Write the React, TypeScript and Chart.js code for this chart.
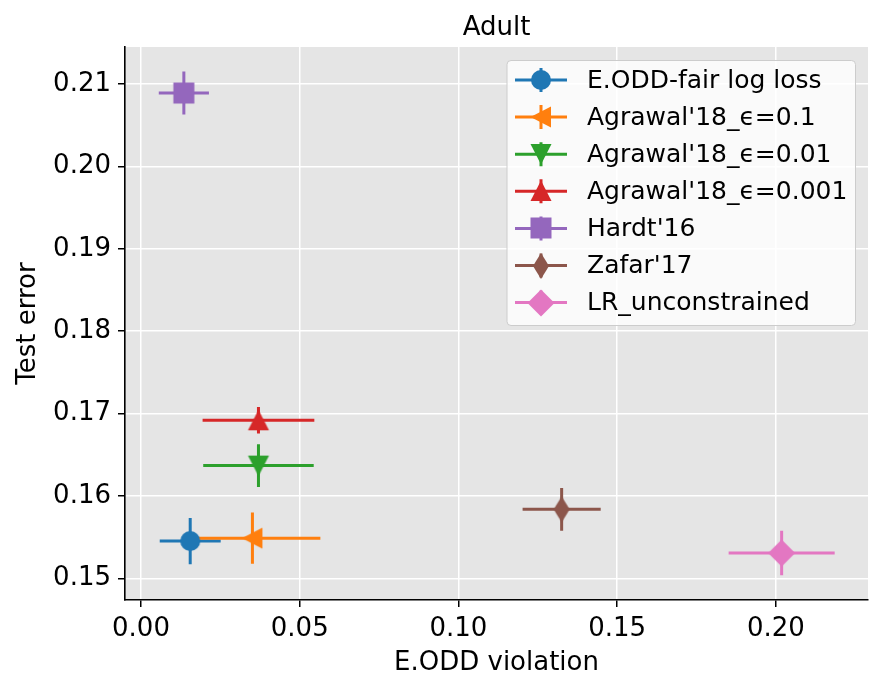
import React, { useEffect, useRef } from "react";
import { Chart, registerables } from "chart.js";

Chart.register(...registerables);

// Methods compared on the Adult dataset
const seriesLabels = [
  "E.ODD-fair log loss",
  "Agrawal'18_\u03f5=0.1",
  "Agrawal'18_\u03f5=0.01",
  "Agrawal'18_\u03f5=0.001",
  "Hardt'16",
  "Zafar'17",
  "LR_unconstrained",
];
const seriesColors = ["#1f77b4", "#ff7f0e", "#2ca02c", "#d62728", "#9467bd", "#8c564b", "#e377c2"];
const markerShapes = ["circle", "triangleLeft", "triangleDown", "triangleUp", "square", "thinDiamond", "diamond"];

// Mean E.ODD violation and test error, with their spreads
const violation = [0.0155, 0.0351, 0.037, 0.037, 0.0135, 0.1325, 0.2018];
const violationErr = [0.0096, 0.0214, 0.0174, 0.0176, 0.0079, 0.0123, 0.0167];
const testError = [0.15455, 0.1549, 0.1637, 0.1692, 0.2089, 0.1584, 0.1531];
const testErrorErr = [0.0028, 0.0031, 0.0026, 0.0016, 0.0026, 0.0026, 0.0027];

const xTicks = [0, 0.05, 0.1, 0.15, 0.2];
const yTicks = [0.15, 0.16, 0.17, 0.18, 0.19, 0.2, 0.21];

const FONT = "'DejaVu Sans', sans-serif";

function makeMarker(shape: string, color: string): HTMLCanvasElement {
  const size = 30;
  const c = document.createElement("canvas");
  c.width = size;
  c.height = size;
  const g = c.getContext("2d")!;
  g.fillStyle = color;
  g.translate(size / 2, size / 2);
  g.beginPath();
  switch (shape) {
    case "circle":
      g.arc(0, 0, 10, 0, Math.PI * 2);
      break;
    case "triangleUp":
      g.moveTo(0, -10.5); g.lineTo(10.5, 10); g.lineTo(-10.5, 10);
      break;
    case "triangleDown":
      g.moveTo(0, 10.5); g.lineTo(10.5, -10); g.lineTo(-10.5, -10);
      break;
    case "triangleLeft":
      g.moveTo(-10.5, 0); g.lineTo(10, -10.5); g.lineTo(10, 10.5);
      break;
    case "square":
      g.rect(-10.5, -10.5, 21, 21);
      break;
    case "thinDiamond":
      g.moveTo(0, -13); g.lineTo(8, 0); g.lineTo(0, 13); g.lineTo(-8, 0);
      break;
    case "diamond":
      g.moveTo(0, -13.5); g.lineTo(13.5, 0); g.lineTo(0, 13.5); g.lineTo(-13.5, 0);
      break;
  }
  g.closePath();
  g.fill();
  return c;
}

// Gray panel behind the grid
const panelBackground = {
  id: "panelBackground",
  beforeDraw(chart: any) {
    const { ctx, chartArea: a } = chart;
    ctx.save();
    ctx.fillStyle = "#e5e5e5";
    ctx.fillRect(a.left, a.top, a.right - a.left, a.bottom - a.top);
    ctx.restore();
  },
};

// Horizontal and vertical error bars under the markers
const errorBars = {
  id: "errorBars",
  beforeDatasetsDraw(chart: any) {
    const { ctx, scales } = chart;
    const xs = scales.x;
    const ys = scales.y;
    ctx.save();
    ctx.lineWidth = 3;
    ctx.lineCap = "butt";
    chart.data.datasets.forEach((ds: any, i: number) => {
      const x = violation[i];
      const y = testError[i];
      const px = xs.getPixelForValue(x);
      const py = ys.getPixelForValue(y);
      ctx.strokeStyle = ds.borderColor;
      ctx.beginPath();
      ctx.moveTo(xs.getPixelForValue(x - violationErr[i]), py);
      ctx.lineTo(xs.getPixelForValue(x + violationErr[i]), py);
      ctx.moveTo(px, ys.getPixelForValue(y - testErrorErr[i]));
      ctx.lineTo(px, ys.getPixelForValue(y + testErrorErr[i]));
      ctx.stroke();
    });
    ctx.restore();
  },
};

// Title and boxed legend inside the plot
const decorations = {
  id: "decorations",
  afterDraw(chart: any) {
    const { ctx, chartArea: a } = chart;
    ctx.save();
    ctx.fillStyle = "#000";
    ctx.font = `26px ${FONT}`;
    ctx.textAlign = "center";
    ctx.textBaseline = "alphabetic";
    ctx.fillText("Adult", (a.left + a.right) / 2, 35);

    const boxR = a.right - 13;
    const boxL = boxR - 348.5;
    const boxT = a.top + 13;
    const boxB = boxT + 265;
    ctx.beginPath();
    ctx.roundRect(boxL + 0.5, boxT + 0.5, boxR - boxL, boxB - boxT, 4);
    ctx.fillStyle = "rgba(255,255,255,0.8)";
    ctx.fill();
    ctx.strokeStyle = "#cccccc";
    ctx.lineWidth = 1;
    ctx.stroke();

    const datasets = chart.data.datasets;
    datasets.forEach((ds: any, i: number) => {
      const cy = boxT + 20 + i * 37.1;
      const hx0 = boxL + 8.5;
      const hx1 = hx0 + 52;
      const hc = (hx0 + hx1) / 2;
      ctx.strokeStyle = ds.borderColor;
      ctx.lineWidth = 3;
      ctx.beginPath();
      ctx.moveTo(hx0, cy);
      ctx.lineTo(hx1, cy);
      ctx.moveTo(hc, cy - 12);
      ctx.lineTo(hc, cy + 12);
      ctx.stroke();
      const m = ds.pointStyle as HTMLCanvasElement;
      ctx.drawImage(m, Math.round(hc - m.width / 2), Math.round(cy - m.height / 2));
      ctx.fillStyle = "#000";
      ctx.font = `25px ${FONT}`;
      ctx.textAlign = "left";
      ctx.textBaseline = "middle";
      ctx.fillText(ds.label, hx1 + 20, cy + 1);
    });
    ctx.restore();
  },
};

export default function App() {
  const canvasRef = useRef<HTMLCanvasElement | null>(null);

  useEffect(() => {
    document.body.style.margin = "0";
    const canvas = canvasRef.current;
    if (!canvas) return;
    Chart.defaults.font.family = FONT;
    Chart.defaults.color = "#000";

    const datasets = seriesLabels.map((label, i) => ({
      label,
      data: [{ x: violation[i], y: testError[i] }],
      borderColor: seriesColors[i],
      backgroundColor: seriesColors[i],
      pointStyle: makeMarker(markerShapes[i], seriesColors[i]),
      pointRadius: 10,
      pointHoverRadius: 10,
    }));

    const chart = new Chart(canvas, {
      type: "scatter",
      data: { datasets },
      options: {
        animation: false,
        responsive: false,
        devicePixelRatio: 1,
        layout: { padding: { top: 47, right: 22, left: 0, bottom: 0 } },
        plugins: {
          legend: { display: false },
          title: { display: false },
          tooltip: { enabled: false },
        },
        scales: {
          x: {
            type: "linear",
            min: -0.00504,
            max: 0.229,
            afterBuildTicks: (s: any) => {
              s.ticks = xTicks.map((v) => ({ value: v }));
            },
            afterFit: (s: any) => {
              s.height = 94;
            },
            ticks: {
              font: { size: 26 },
              color: "#000",
              padding: 7,
              maxRotation: 0,
              autoSkip: false,
              callback: (v: any) => Number(v).toFixed(2),
            },
            grid: { color: "#ffffff", lineWidth: 1.5, tickColor: "#000", tickLength: 7 },
            border: { display: true, color: "#000", width: 1.6 },
            title: {
              display: true,
              text: "E.ODD violation",
              font: { size: 26 },
              color: "#000",
              padding: { top: 0, bottom: 15 },
            },
          },
          y: {
            type: "linear",
            min: 0.1474,
            max: 0.21448,
            afterBuildTicks: (s: any) => {
              s.ticks = yTicks.map((v) => ({ value: v }));
            },
            afterFit: (s: any) => {
              s.width = 125;
            },
            ticks: {
              font: { size: 26 },
              color: "#000",
              padding: 7,
              autoSkip: false,
              callback: (v: any) => Number(v).toFixed(2),
            },
            grid: { color: "#ffffff", lineWidth: 1.5, tickColor: "#000", tickLength: 7 },
            border: { display: true, color: "#000", width: 1.6 },
            title: {
              display: true,
              text: "Test error",
              font: { size: 26 },
              color: "#000",
              padding: { top: 13, bottom: 0 },
            },
          },
        },
      },
      plugins: [panelBackground, errorBars, decorations],
    });

    return () => chart.destroy();
  }, []);

  return (
    <div style={{ position: "absolute", left: 0, top: 0, width: 890, height: 694 }}>
      <canvas ref={canvasRef} width={890} height={694} />
    </div>
  );
}
